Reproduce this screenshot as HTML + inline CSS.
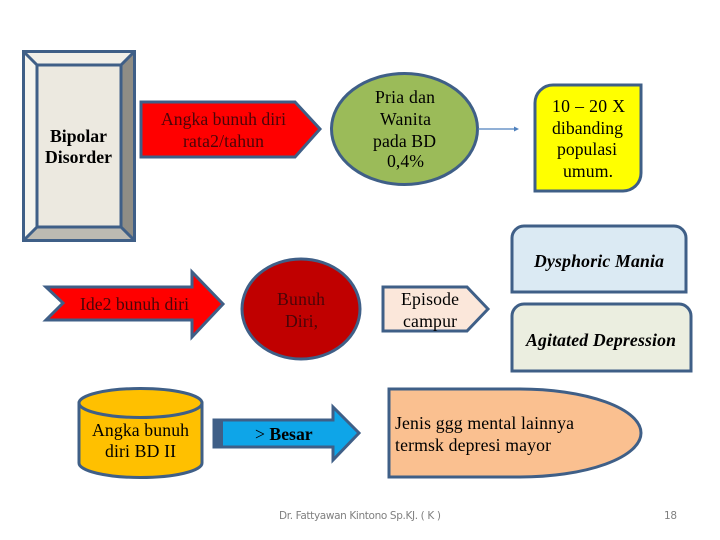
<!DOCTYPE html>
<html>
<head>
<meta charset="utf-8">
<style>
html,body{margin:0;padding:0;background:#fff;width:720px;height:540px;overflow:hidden}
svg{display:block}
text{font-family:"Liberation Serif",serif;font-size:17.7px;fill:#000}
.s{stroke:#3f5f87;stroke-width:3;stroke-linejoin:miter}
.b{font-weight:bold}
.bi{font-weight:bold;font-style:italic}
.d{fill:#4a0508}
.f{font-family:"DejaVu Sans","Liberation Sans",sans-serif;font-size:10.5px;fill:#808080}
</style>
</head>
<body>
<svg width="720" height="540" viewBox="0 0 720 540" xmlns="http://www.w3.org/2000/svg">
<!-- Bevel -->
<polygon points="23,51 135,51 121,65 37,65" fill="#f1efe8"/>
<polygon points="23,51 37,65 37,227 23,241" fill="#f5f4ee"/>
<polygon points="135,51 135,241 121,227 121,65" fill="#8f8d85"/>
<polygon points="23,241 37,227 121,227 135,241" fill="#bcbab2"/>
<rect x="37" y="65" width="84" height="162" fill="#ece9e0"/>
<g stroke="#3f5f87" stroke-width="3">
<line x1="24" y1="52" x2="37" y2="65"/>
<line x1="134" y1="52" x2="121" y2="65"/>
<line x1="24" y1="240" x2="37" y2="227"/>
<line x1="134" y1="240" x2="121" y2="227"/>
</g>
<rect class="s" x="37" y="65" width="84" height="162" fill="none"/>
<rect class="s" x="23.5" y="51.5" width="111" height="189" fill="none"/>
<text class="b" x="50" y="142" textLength="57" lengthAdjust="spacing">Bipolar</text>
<text class="b" x="45" y="163" textLength="67" lengthAdjust="spacing">Disorder</text>

<!-- Red pentagon -->
<polygon class="s" points="141,102 295,102 320,129 295,157 141,157" fill="#ff0000"/>
<text class="d" x="161" y="125" textLength="125" lengthAdjust="spacing">Angka bunuh diri</text>
<text class="d" x="183" y="147" textLength="81" lengthAdjust="spacing">rata2/tahun</text>

<!-- Green ellipse -->
<ellipse class="s" cx="404.5" cy="129" rx="73" ry="55.5" fill="#9bbb59"/>
<text x="375" y="103" textLength="60" lengthAdjust="spacing">Pria dan</text>
<text x="380" y="125" textLength="51" lengthAdjust="spacing">Wanita</text>
<text x="373" y="147" textLength="63" lengthAdjust="spacing">pada BD</text>
<text x="387" y="167" textLength="37" lengthAdjust="spacing">0,4%</text>

<!-- Connector -->
<line x1="478" y1="129" x2="515" y2="129" stroke="#4f81bd" stroke-width="1.3"/>
<polygon points="514,126.5 519,129 514,131.5" fill="#4f81bd"/>

<!-- Yellow -->
<path class="s" d="M553,85 H641 V173 A18,18 0 0 1 623,191 H535 V103 A18,18 0 0 1 553,85 Z" fill="#ffff00"/>
<text x="552" y="112" textLength="73" lengthAdjust="spacing">10 – 20 X</text>
<text x="552" y="134" textLength="71" lengthAdjust="spacing">dibanding</text>
<text x="557" y="155" textLength="60" lengthAdjust="spacing">populasi</text>
<text x="563" y="177" textLength="50" lengthAdjust="spacing">umum.</text>

<!-- Dysphoric -->
<path class="s" d="M512,292 V238 A12,12 0 0 1 524,226 H674 A12,12 0 0 1 686,238 V292 Z" fill="#dbeaf3"/>
<text class="bi" x="534" y="267" textLength="130" lengthAdjust="spacing">Dysphoric Mania</text>

<!-- Agitated -->
<path class="s" d="M512,371 V316 A12,12 0 0 1 524,304 H679 A12,12 0 0 1 691,316 V371 Z" fill="#ebeee0"/>
<text class="bi" x="526" y="346" textLength="150" lengthAdjust="spacing">Agitated Depression</text>

<!-- Episode -->
<polygon class="s" points="383,287 467,287 488,309 467,331 383,331" fill="#fbe7da"/>
<text x="401" y="305" textLength="58" lengthAdjust="spacing">Episode</text>
<text x="403" y="327" textLength="54" lengthAdjust="spacing">campur</text>

<!-- Ide2 arrow -->
<polygon class="s" points="46,287 192,287 192,272 223,304 192,337 192,320 46,320 63,303" fill="#ff0000"/>
<text class="d" x="80" y="310" textLength="109" lengthAdjust="spacing">Ide2 bunuh diri</text>

<!-- Bunuh Diri -->
<ellipse class="s" cx="301" cy="309" rx="59" ry="50" fill="#c00000"/>
<text class="d" x="277" y="305" textLength="48" lengthAdjust="spacing">Bunuh</text>
<text class="d" x="285" y="327" textLength="33" lengthAdjust="spacing">Diri,</text>

<!-- Cylinder -->
<path class="s" d="M79,403 V463 A61.5,14.5 0 0 0 202,463 V403 Z" fill="#ffc000"/>
<ellipse class="s" cx="140.5" cy="403" rx="61.5" ry="14.5" fill="#ffc000"/>
<text x="92" y="436" textLength="97" lengthAdjust="spacing">Angka bunuh</text>
<text x="105" y="457" textLength="71" lengthAdjust="spacing">diri BD II</text>

<!-- Blue arrow -->
<polygon class="s" points="214,420 333,420 333,407 359,433 333,460 333,447 214,447" fill="#0ea5e8"/>
<rect x="213" y="419" width="10" height="29" fill="#3f5f87"/>
<text x="255" y="440">&gt; <tspan class="b">Besar</tspan></text>

<!-- Bullet -->
<path class="s" d="M389,389 H520 A121,44 0 0 1 520,477 H389 Z" fill="#fac090"/>
<text x="395" y="429" textLength="179" lengthAdjust="spacing">Jenis ggg mental lainnya</text>
<text x="395" y="451" textLength="156" lengthAdjust="spacing">termsk depresi mayor</text>

<!-- Footer -->
<text class="f" x="279" y="519" textLength="162" lengthAdjust="spacing">Dr. Fattyawan Kintono Sp.KJ. ( K )</text>
<text class="f" x="664" y="519" textLength="13" lengthAdjust="spacing">18</text>
</svg>
</body>
</html>
